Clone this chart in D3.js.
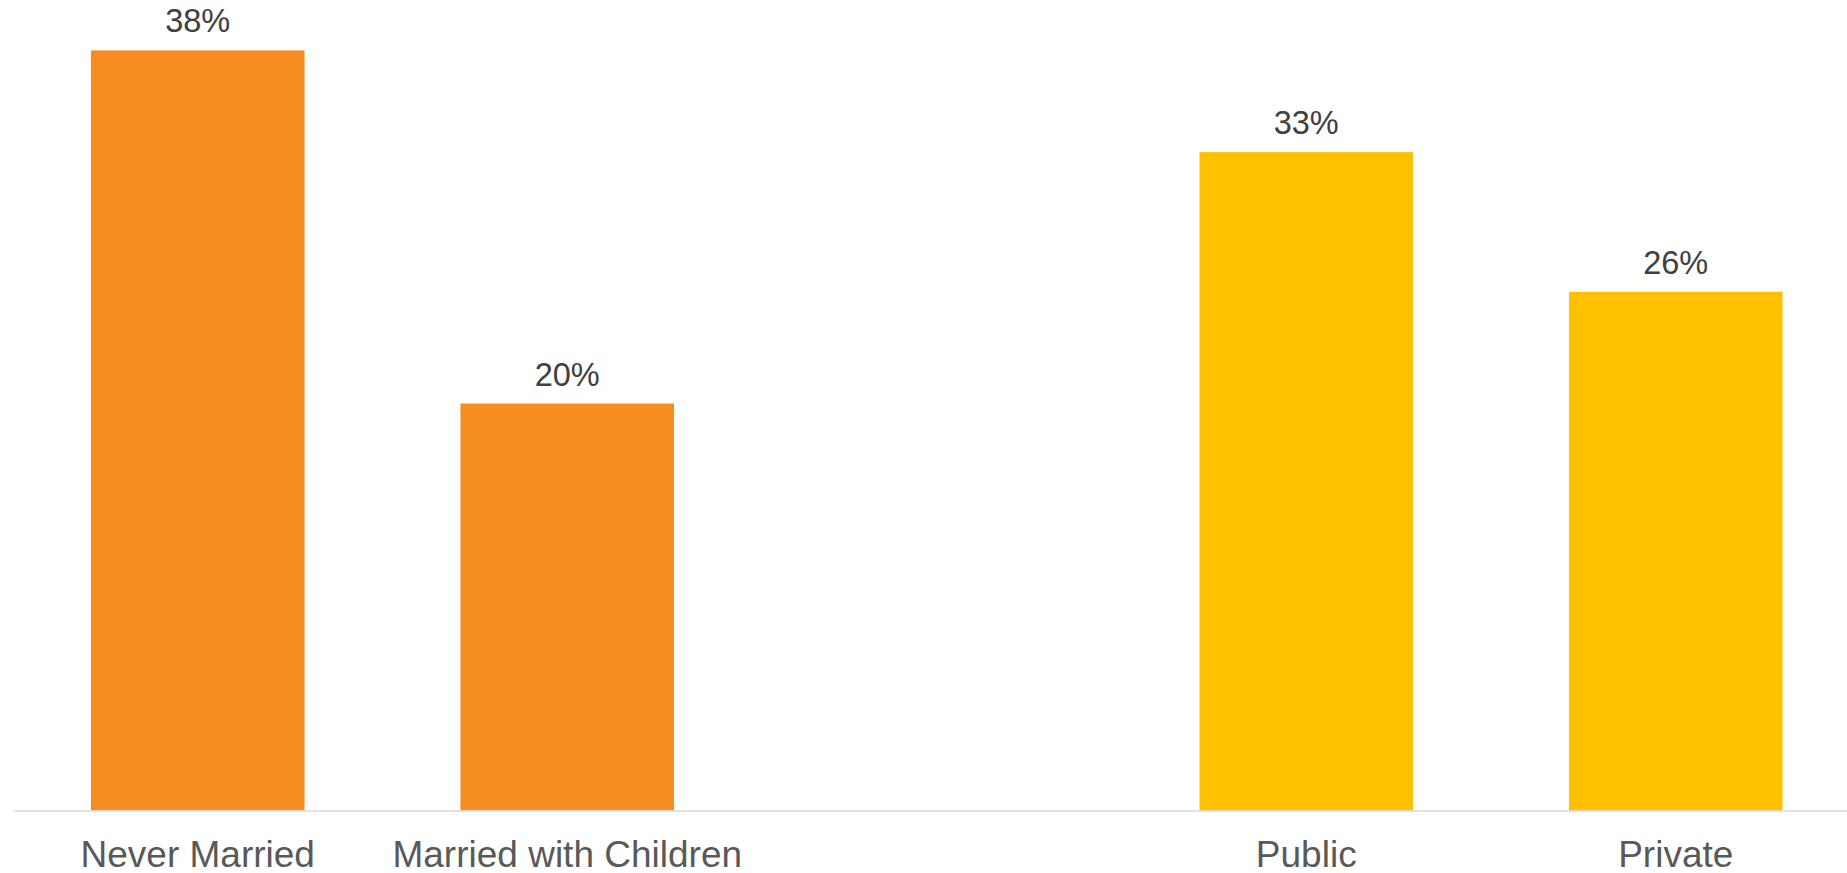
<!DOCTYPE html>
<html>
<head>
<meta charset="utf-8">
<script src="https://cdn.jsdelivr.net/npm/d3@7"></script>
<style>
  html, body { margin: 0; padding: 0; background: #ffffff; }
  svg { display: block; }
</style>
</head>
<body>
<svg id="chart" width="1847" height="873"></svg>
<script>
// Data
const categories = ["Never Married", "Married with Children", "Public", "Private"];
const slots = ["Never Married", "Married with Children", "gap", "Public", "Private"];
const values = [38.1, 20.4, 33.0, 26.0];
const groups = ["Marital", "Marital", "School", "School"];
const groupColors = { Marital: "#F68D20", School: "#FFC000" };

const W = 1847, H = 873;
const svg = d3.select("#chart");

const x = d3.scaleBand()
  .domain(slots)
  .range([13, 1860.5])
  .paddingInner(0.422)
  .paddingOuter(0.211);

const y = d3.scaleLinear()
  .domain([0, 40])
  .range([810.5, 12.5]);

const data = categories.map((c, i) => ({ cat: c, v: values[i], g: groups[i] }));

// Bars
svg.append("g").selectAll("rect")
  .data(data)
  .join("rect")
  .attr("x", d => x(d.cat))
  .attr("y", d => y(d.v))
  .attr("width", x.bandwidth())
  .attr("height", d => y(0) - y(d.v))
  .attr("fill", d => groupColors[d.g]);

// Axis
const axis = d3.axisBottom(x)
  .tickSize(0)
  .tickPadding(0)
  .tickFormat(d => d === "gap" ? "" : d);

const gAxis = svg.append("g")
  .attr("transform", `translate(0,${y(0)})`)
  .call(axis);

gAxis.select(".domain")
  .attr("stroke", "#D9D9D9")
  .attr("stroke-width", 1.5);

gAxis.selectAll(".tick text")
  .attr("y", 56)
  .attr("dy", 0)
  .attr("fill", "#595959")
  .style("font-family", "'Liberation Sans', Arial, sans-serif")
  .style("font-size", "37px");

// Value labels
svg.append("g").selectAll("text")
  .data(data)
  .join("text")
  .attr("x", d => x(d.cat) + x.bandwidth() / 2)
  .attr("y", d => y(d.v) - 18)
  .attr("text-anchor", "middle")
  .attr("fill", "#404040")
  .style("font-family", "'Liberation Sans', Arial, sans-serif")
  .style("font-size", "32.5px")
  .text(d => d3.format(".0f")(d.v) + "%");
</script>
</body>
</html>
